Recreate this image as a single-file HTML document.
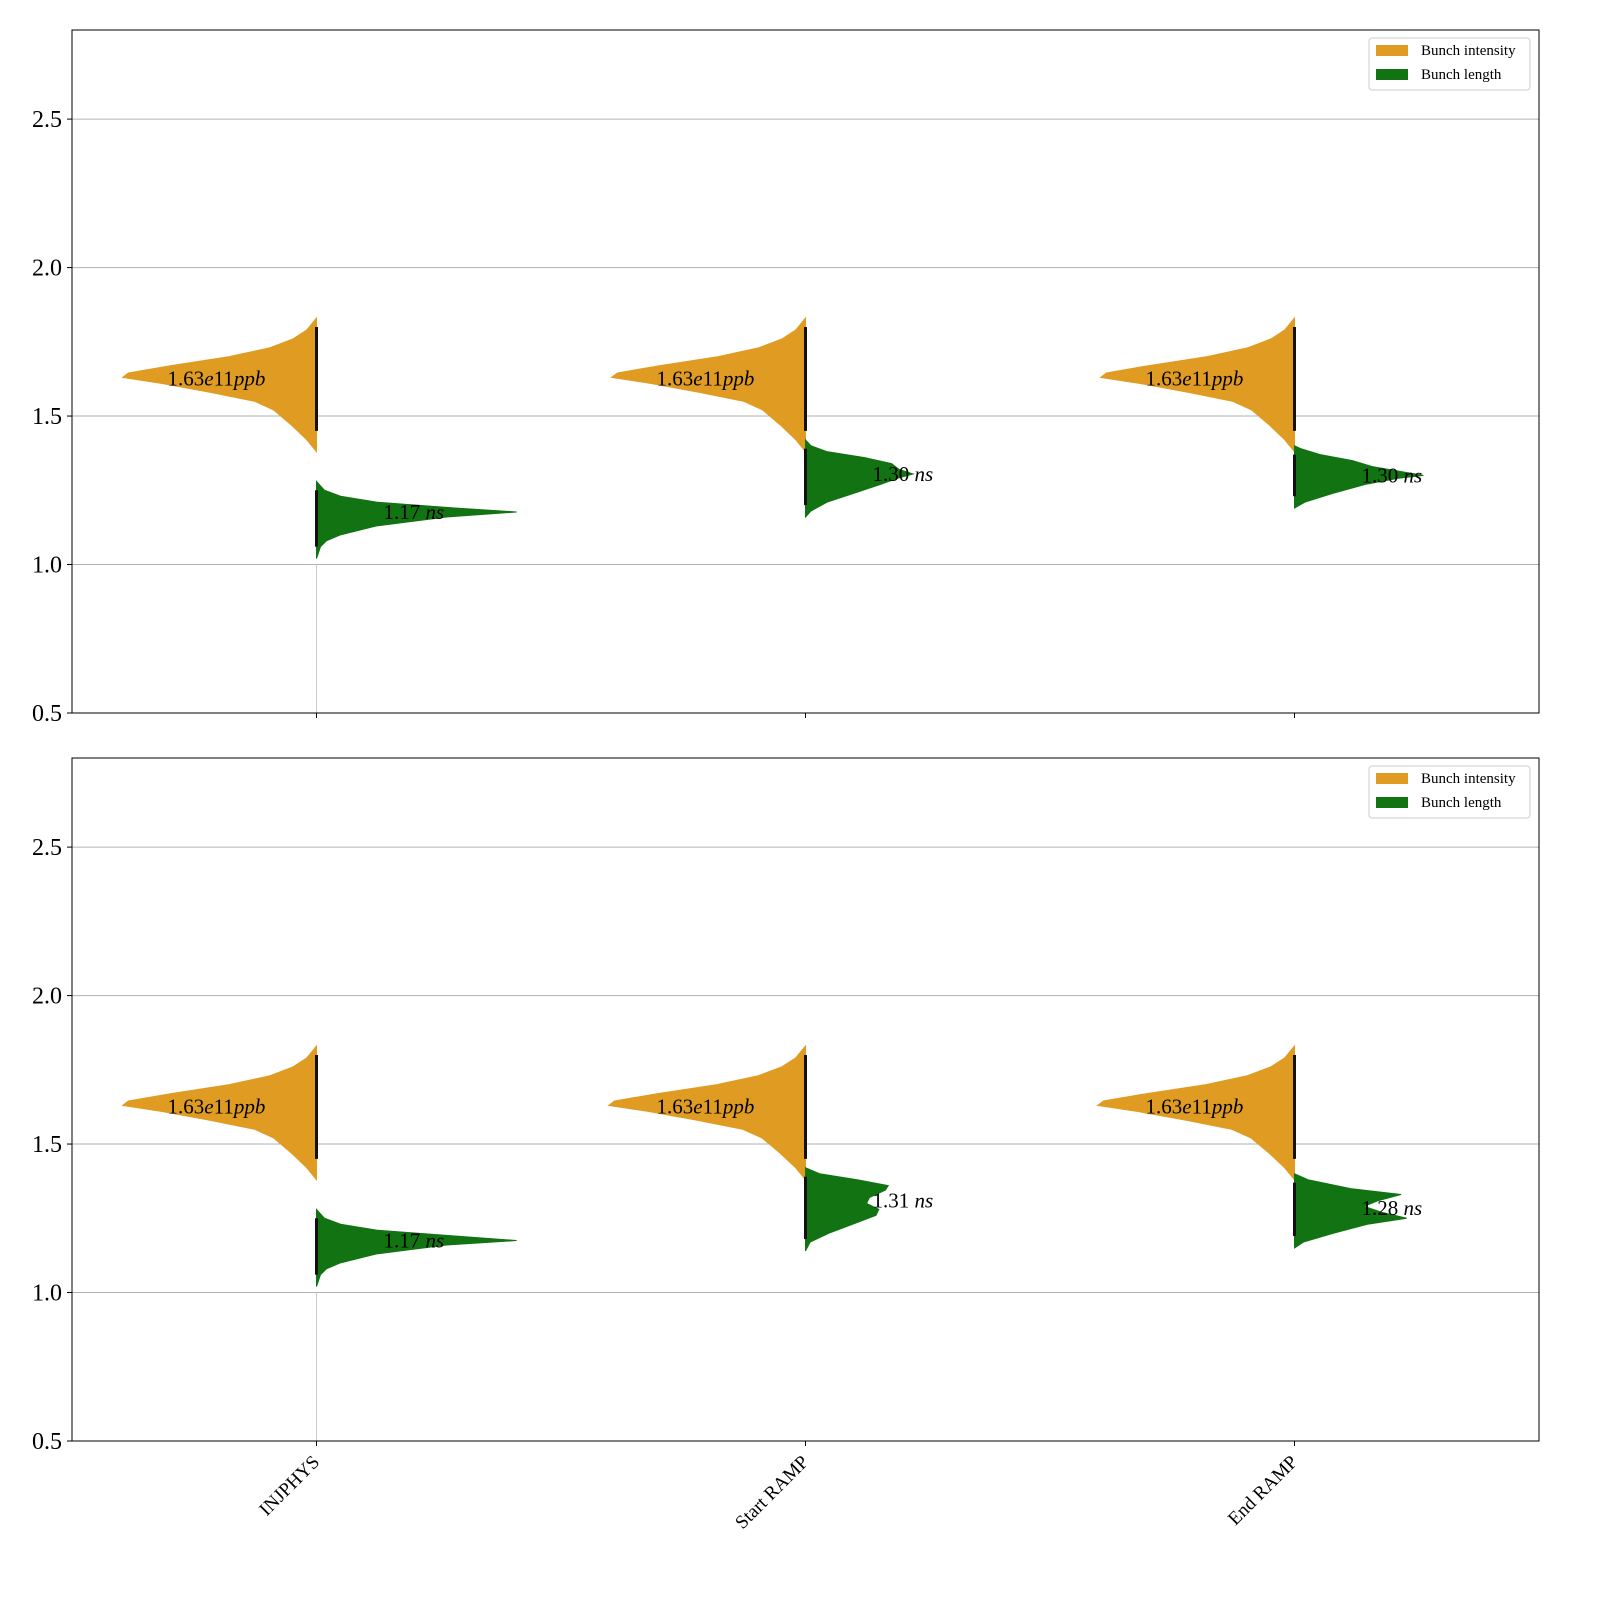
<!DOCTYPE html>
<html><head><meta charset="utf-8"><style>
body{margin:0;background:#fff}
svg{display:block;font-family:"Liberation Serif","DejaVu Serif",serif}
</style></head><body>
<svg id="chart" width="1600" height="1600" viewBox="0 0 1600 1600" xmlns="http://www.w3.org/2000/svg"></svg>
<script>
const categories = ["INJPHYS", "Start RAMP", "End RAMP"];
const yTicks = [0.5, 1.0, 1.5, 2.0, 2.5];
const intensityLabels = ["1.63", "1.63", "1.63"];
const lengthLabelsTop = ["1.17", "1.30", "1.30"];
const lengthLabelsBottom = ["1.17", "1.31", "1.28"];
const intensityProfile = [[1.38,0],[1.42,0.05],[1.47,0.13],[1.52,0.22],[1.55,0.32],[1.58,0.55],[1.61,0.8],[1.63,1.0],[1.645,0.97],[1.67,0.75],[1.70,0.45],[1.73,0.24],[1.76,0.12],[1.79,0.05],[1.83,0]];
const intensityMaxTop = [0.65, 0.65, 0.65];
const intensityMaxBottom = [0.65, 0.66, 0.66];
const lengthTop = [
 [[1.02,0],[1.06,0.02],[1.08,0.05],[1.10,0.12],[1.13,0.3],[1.16,0.65],[1.177,1.0],[1.19,0.7],[1.21,0.3],[1.23,0.12],[1.25,0.04],[1.28,0]],
 [[1.16,0],[1.18,0.05],[1.21,0.2],[1.24,0.45],[1.27,0.7],[1.29,0.85],[1.305,1.0],[1.32,0.87],[1.34,0.8],[1.36,0.55],[1.38,0.2],[1.40,0.05],[1.42,0]],
 [[1.19,0],[1.21,0.08],[1.24,0.3],[1.27,0.55],[1.29,0.8],[1.30,1.0],[1.315,0.8],[1.33,0.6],[1.35,0.45],[1.37,0.2],[1.39,0.05],[1.40,0]]
];
const lengthBottom = [
 [[1.02,0],[1.06,0.02],[1.08,0.05],[1.10,0.12],[1.13,0.3],[1.16,0.65],[1.175,1.0],[1.19,0.7],[1.21,0.3],[1.23,0.12],[1.25,0.04],[1.28,0]],
 [[1.14,0],[1.17,0.05],[1.20,0.25],[1.23,0.5],[1.26,0.75],[1.28,0.78],[1.30,0.65],[1.32,0.68],[1.345,0.85],[1.36,0.88],[1.38,0.55],[1.40,0.15],[1.42,0]],
 [[1.15,0],[1.17,0.08],[1.20,0.35],[1.23,0.65],[1.25,1.0],[1.27,0.78],[1.29,0.62],[1.31,0.75],[1.33,0.95],[1.35,0.5],[1.38,0.12],[1.40,0]]
];
const lengthMaxTop = [0.66, 0.355, 0.425];
const lengthMaxBottom = [0.66, 0.31, 0.37];
const lengthLabelY = [[1.177,1.305,1.30],[1.175,1.31,1.285]];

const svg = document.getElementById('chart');
const NS = 'http://www.w3.org/2000/svg';
function mk(tag, attrs, parent){const e=document.createElementNS(NS,tag);for(const k in attrs)e.setAttribute(k,attrs[k]);(parent||svg).appendChild(e);return e;}
const X0=72, X1=1539;
function xScale(i){return X0+(i+0.5)/3*(X1-X0);}
const unitW = (X1-X0)/3;
const panels=[{top:30,bot:713,len:lengthTop,lmax:lengthMaxTop,imax:intensityMaxTop,labels:lengthLabelsTop,ly:lengthLabelY[0]},
              {top:758,bot:1441,len:lengthBottom,lmax:lengthMaxBottom,imax:intensityMaxBottom,labels:lengthLabelsBottom,ly:lengthLabelY[1]}];
panels.forEach((p,pi)=>{
  const yS=v=>p.bot-(v-0.5)/(2.8-0.5)*(p.bot-p.top);
  const g=mk('g',{});
  
  
  yTicks.forEach(t=>{
    const y=yS(t);
    const gl=mk('line',{x1:X0,x2:X1,y1:y,y2:y,stroke:'#b0b0b0','stroke-width':1},g);
    
    
    mk('line',{x1:X0-5,x2:X0,y1:y,y2:y,stroke:'#000'},g);
    const tl=mk('text',{x:X0-10,y:y+8,'text-anchor':'end','font-size':24},g);
    tl.textContent=t.toFixed(1);
    
    
  });
  categories.forEach((c,i)=>{
    const cx=xScale(i);
    mk('line',{x1:cx,x2:cx,y1:p.bot,y2:p.bot+5,stroke:'#000'},g);
    if(i===0){const w=mk('line',{x1:cx,x2:cx,y1:yS(1.0),y2:p.bot,stroke:'#ccc','stroke-width':1},g);
      }
    const ipts=[];
    intensityProfile.forEach(function(pt){ipts.push((cx-pt[1]*p.imax[i]*unitW*0.61).toFixed(2)+','+yS(pt[0]).toFixed(2));});
    const vo=mk('polygon',{points:ipts.join(' '),style:'fill:#e09c22;stroke:#e09c22;stroke-width:1'},g);
    
    
    const lp=p.len[i];
    const lpts=[];
    lp.forEach(function(pt){lpts.push((cx+pt[1]*p.lmax[i]*unitW*0.62).toFixed(2)+','+yS(pt[0]).toFixed(2));});
    const vg=mk('polygon',{points:lpts.join(' '),style:'fill:#127312;stroke:#127312;stroke-width:1'},g);
    
    
    mk('line',{x1:cx,x2:cx,y1:yS(1.45),y2:yS(1.80),stroke:'#111','stroke-width':3},g);
    mk('line',{x1:cx,x2:cx,y1:yS(lp[0][0]+0.04),y2:yS(lp[lp.length-1][0]-0.03),stroke:'#111','stroke-width':3},g);
    const t1=mk('text',{x:cx-149,y:yS(1.63)+8,'font-size':21},g);
    t1.innerHTML=intensityLabels[i]+'<tspan font-style="italic">e</tspan>11<tspan font-style="italic">ppb</tspan>';
    
    
    const t2=mk('text',{x:cx+67,y:yS(p.ly[i])+7,'font-size':21},g);
    t2.innerHTML=p.labels[i]+' <tspan font-style="italic">ns</tspan>';
    
    
    if(pi===1){
      const xl=mk('text',{x:cx+4,y:p.bot+22,'text-anchor':'end','font-size':19,transform:'rotate(-45 '+(cx+4)+' '+(p.bot+22)+')'},g);
      xl.textContent=c;
      
      
    }
  });
  const fr=mk('rect',{x:X0,y:p.top,width:X1-X0,height:p.bot-p.top,fill:'none',stroke:'#000','stroke-width':1},g);
  
  const lg=mk('g',{},g);
  
  
  mk('rect',{x:1369,y:p.top+8,width:161,height:52,rx:3,fill:'#fff',stroke:'#ccc'},lg);
  [['Bunch intensity','#e09c22'],['Bunch length','#127312']].forEach(([n,col],k)=>{
    const e=mk('g',{},lg);
    
    
    mk('rect',{x:1376,y:p.top+15+k*24,width:32,height:11,fill:col},e);
    const t=mk('text',{x:1421,y:p.top+25+k*24,'font-size':15},e);
    t.textContent=n;
  });
});
</script>
</body></html>
